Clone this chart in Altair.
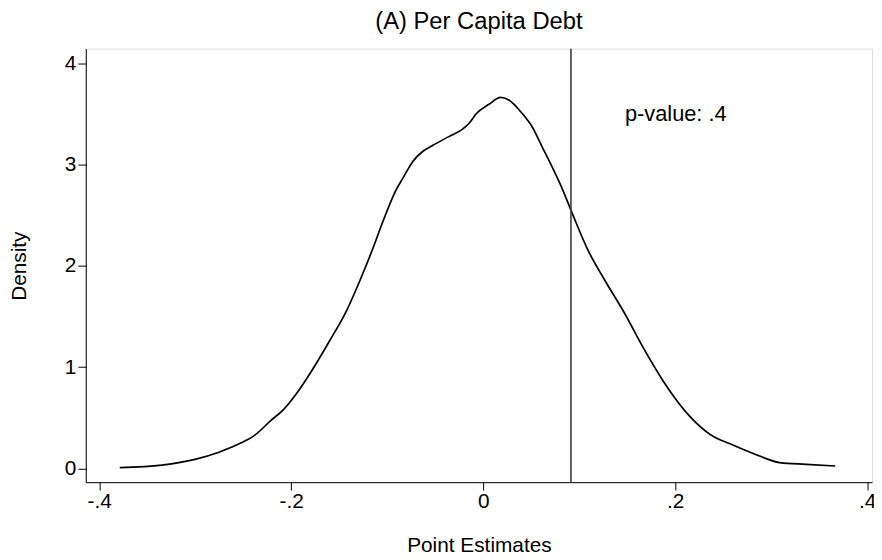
import altair as alt
import pandas as pd

# Kernel density curve
x_vals = [-0.3786, -0.3347, -0.3002, -0.2761, -0.2521, -0.2382, -0.2211, -0.2073,
          -0.1935, -0.1798, -0.1592, -0.1419, -0.1282, -0.1144, -0.1041, -0.0921,
          -0.0834, -0.0731, -0.0628, -0.0524, -0.0353, -0.0215, -0.0147, -0.0077,
          0.0060, 0.0181, 0.0266, 0.0405, 0.0508, 0.0611, 0.0714, 0.0818, 0.0937,
          0.1092, 0.1265, 0.1471, 0.1677, 0.1884, 0.2159, 0.2366, 0.2606, 0.2813,
          0.3088, 0.3363, 0.3667]
density = [0.007, 0.032, 0.088, 0.157, 0.252, 0.326, 0.473, 0.588,
           0.751, 0.947, 1.273, 1.567, 1.861, 2.187, 2.449, 2.726,
           2.873, 3.036, 3.134, 3.193, 3.281, 3.353, 3.411, 3.500,
           3.598, 3.666, 3.641, 3.509, 3.379, 3.183, 2.987, 2.775, 2.498,
           2.155, 1.861, 1.535, 1.175, 0.849, 0.506, 0.333, 0.228, 0.147,
           0.056, 0.039, 0.023]

vline_x = [0.0914]
annot_x = [0.1476]
annot_y = [3.43]
annot_text = ["p-value: .4"]

x_ticks = [-0.4, -0.2, 0.0, 0.2, 0.4]
x_tick_labels = ["-.4", "-.2", "0", ".2", ".4"]
y_ticks = [0, 1, 2, 3, 4]

title_text = "(A) Per Capita Debt"
x_title = "Point Estimates"
y_title = "Density"

FONT = "Liberation Sans"

df = pd.DataFrame({"x": x_vals, "density": density})
df_v = pd.DataFrame({"x": vline_x})
df_t = pd.DataFrame({"x": annot_x, "y": annot_y, "label": annot_text})

# label expression built from the tick lists
expr = "'" + x_tick_labels[-1] + "'"
for v, lab in reversed(list(zip(x_ticks[:-1], x_tick_labels[:-1]))):
    expr = f"abs(datum.value - ({v})) < 0.05 ? '{lab}' : ({expr})"

xscale = alt.Scale(domain=[-0.414, 0.405], nice=False, zero=False)
yscale = alt.Scale(domain=[-0.137, 4.148], nice=False, zero=False)

x_axis = alt.Axis(values=x_ticks, labelExpr=expr, title=x_title, grid=False,
                  tickSize=8, labelPadding=1, labelFontSize=21, titleFontSize=21,
                  labelFont=FONT, titleFont=FONT, labelColor="black", titleColor="black",
                  domainColor="black", tickColor="black", titleFontWeight="normal",
                  titleY=64, titleBaseline="middle", labelFlush=False, labelOverlap=False)
y_axis = alt.Axis(values=y_ticks, format="d", title=y_title, grid=False,
                  tickSize=8, labelPadding=2, labelFontSize=21, titleFontSize=21,
                  labelFont=FONT, titleFont=FONT, labelColor="black", titleColor="black",
                  domainColor="black", tickColor="black", titleFontWeight="normal",
                  titleX=-66.5, titleBaseline="middle", titleAlign="center", titleY=219,
                  labelFlush=False, labelOverlap=False)

curve = alt.Chart(df).mark_line(color="black", strokeWidth=1.7, interpolate="monotone").encode(
    x=alt.X("x:Q", scale=xscale, axis=x_axis),
    y=alt.Y("density:Q", scale=yscale, axis=y_axis),
)

vline = alt.Chart(df_v).mark_rule(color="#3c3c3c", strokeWidth=1.6).encode(
    x=alt.X("x:Q", scale=xscale)
)

annot = alt.Chart(df_t).mark_text(align="left", baseline="alphabetic", fontSize=22,
                                   font=FONT, color="black").encode(
    x=alt.X("x:Q", scale=xscale),
    y=alt.Y("y:Q", scale=yscale),
    text="label:N",
)

chart = alt.layer(curve, vline, annot).properties(
    width=793.5,
    height=437.5,
    title=alt.Title(title_text, fontSize=24, font=FONT, fontWeight="normal",
                    color="black", anchor="middle", offset=14),
    autosize=alt.AutoSizeParams(type="none"),
    padding={"left": 78.5, "top": 38.5, "right": 2, "bottom": 75},
).configure_view(stroke=None).configure(background="white")

chart.save("out.html", embed_options={"renderer": "svg", "actions": False})
